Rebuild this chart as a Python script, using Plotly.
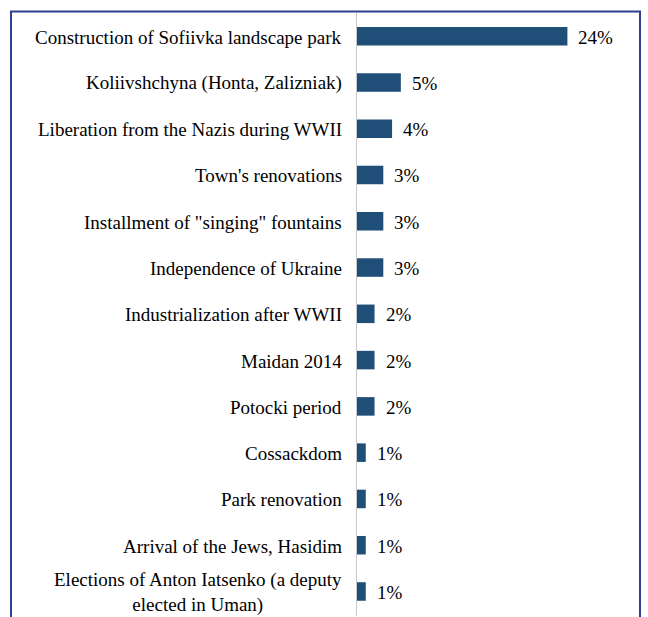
import plotly.graph_objects as go

# Survey results: events considered most significant in the town's history
categories = [
    "Construction of Sofiivka landscape park",
    "Koliivshchyna (Honta, Zalizniak)",
    "Liberation from the Nazis during WWII",
    "Town's renovations",
    "Installment of \"singing\" fountains",
    "Independence of Ukraine",
    "Industrialization after WWII",
    "Maidan 2014",
    "Potocki period",
    "Cossackdom",
    "Park renovation",
    "Arrival of the Jews, Hasidim",
    "Elections of Anton Iatsenko (a deputy<br>elected in Uman)",
]
shares = [24, 5, 4, 3, 3, 3, 2, 2, 2, 1, 1, 1, 1]
value_labels = ["24%", "5%", "4%", "3%", "3%", "3%", "2%", "2%", "2%", "1%", "1%", "1%", "1%"]

BAR_COLOR = "#1F4E79"
FONT = "Times New Roman, Liberation Serif, serif"
FONT_SIZE = 19

fig = go.Figure(
    go.Bar(
        x=shares,
        y=categories,
        orientation="h",
        marker=dict(color=BAR_COLOR, line=dict(width=0)),
        width=0.4,
        hoverinfo="skip",
    )
)

annotations = []
for cat, val, lab in zip(categories, shares, value_labels):
    # category name, right-aligned against the axis
    annotations.append(dict(
        x=0, y=cat, xref="x", yref="y", text=cat, showarrow=False,
        xanchor="right", align="center", xshift=-13, yshift=-1,
        font=dict(family=FONT, size=FONT_SIZE, color="#000000"),
    ))
    # value label just past the bar end
    annotations.append(dict(
        x=val, y=cat, xref="x", yref="y", text=lab, showarrow=False,
        xanchor="left", xshift=9, yshift=-1,
        font=dict(family=FONT, size=FONT_SIZE, color="#000000"),
    ))

fig.update_layout(
    width=648,
    height=617,
    margin=dict(l=357, r=28, t=13, b=1),
    paper_bgcolor="white",
    plot_bgcolor="white",
    showlegend=False,
    bargap=0.6,
    annotations=annotations,
    shapes=[
        # outer frame
        dict(type="rect", xref="paper", yref="paper",
             x0=-346 / 263, x1=283 / 263, y0=-0.05, y1=1.0025,
             line=dict(color="#2E3F92", width=2), layer="above"),
    ],
    xaxis=dict(
        range=[0, 30], showgrid=False, zeroline=False, showticklabels=False,
        showline=False, fixedrange=True,
    ),
    yaxis=dict(
        autorange="reversed", showticklabels=False, showgrid=False,
        zeroline=False, showline=True, linecolor="#C8C8C8", linewidth=1,
        ticks="", fixedrange=True,
    ),
)

fig.write_html("out.html")
